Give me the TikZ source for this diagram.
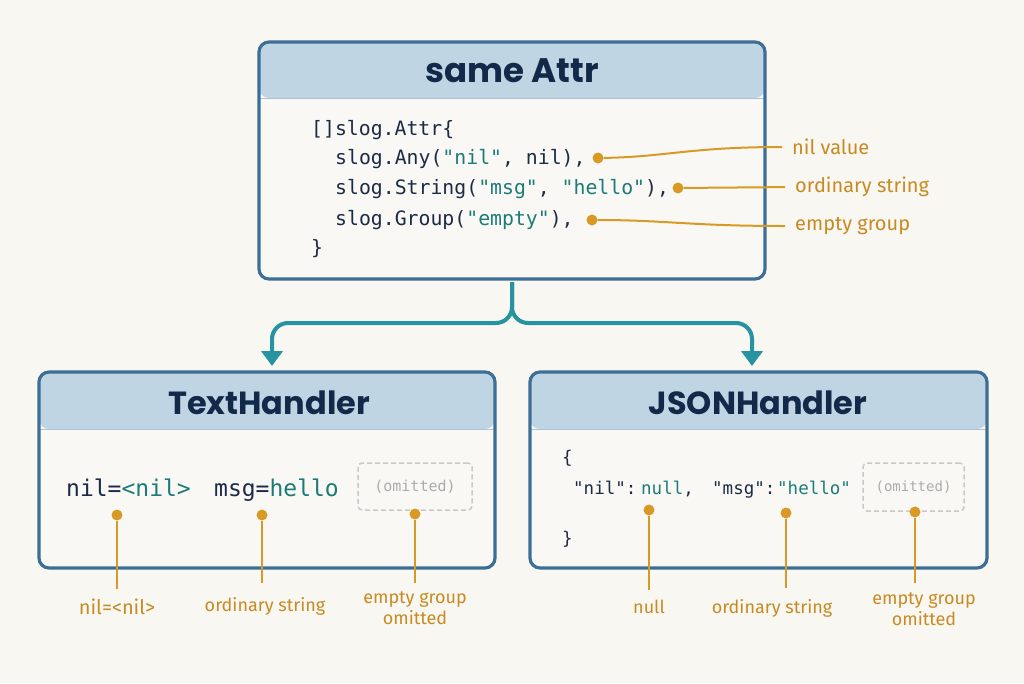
\documentclass[tikz,border=0pt]{standalone}
\usepackage{fontspec}
\setsansfont{Fira Sans}
\setmonofont{DejaVu Sans Mono}
\newfontfamily\titlefont{Poppins}
\usetikzlibrary{arrows.meta,calc}
\definecolor{bgc}{HTML}{F9F7F2}
\definecolor{boxc}{HTML}{3C6E96}
\definecolor{hdrc}{HTML}{BFD5E3}
\definecolor{hdrline}{HTML}{A9C3D6}
\definecolor{bodyc}{HTML}{FAF8F4}
\definecolor{titlec}{HTML}{13294A}
\definecolor{codec}{HTML}{1C2B45}
\definecolor{strc}{HTML}{1B7B77}
\definecolor{orc}{HTML}{D99A25}
\definecolor{orT}{HTML}{C88A22}
\definecolor{arrc}{HTML}{2593A0}
\definecolor{omc}{HTML}{C9C9C9}
\definecolor{omT}{HTML}{ABABAB}
\newcommand\strg[1]{\textcolor{strc}{#1}}
\begin{document}
\begin{tikzpicture}[x=1pt,y=-1pt,
  panel/.style={draw=boxc, line width=3.2pt, rounded corners=10pt, fill=bodyc, inner sep=0pt},
  hdr/.style={path picture={
     \fill[hdrc] (path picture bounding box.north west) rectangle ([yshift=-#1]path picture bounding box.north east);
     \draw[hdrline, line width=1pt] ([yshift=-#1]path picture bounding box.north west) -- ([yshift=-#1]path picture bounding box.north east);}},
  ttl/.style={font=\titlefont\bfseries\fontsize{32}{38}\selectfont, text=titlec, inner sep=0pt},
  codeA/.style={font=\ttfamily\fontsize{19.8}{24}\selectfont, text=codec, anchor=base west, inner sep=0pt},
  codeB/.style={font=\ttfamily\fontsize{23}{28}\selectfont, text=codec, anchor=base west, inner sep=0pt},
  codeC/.style={font=\ttfamily\fontsize{17.5}{22}\selectfont, text=codec, anchor=base west, inner sep=0pt},
  omitbox/.style={draw=omc, dash pattern=on 5pt off 3pt, rounded corners=4pt, line width=1.5pt, text=omT, inner sep=0pt},
  dot/.style={circle, fill=orc, inner sep=0pt, minimum size=11pt},
  lead/.style={draw=orc, line width=2pt},
  labA/.style={font=\sffamily\fontsize{20}{24}\selectfont, text=orT, inner sep=0pt},
  labB/.style={font=\sffamily\fontsize{18}{21}\selectfont, text=orT, inner sep=0pt, align=center},
  conn/.style={draw=arrc, line width=4pt, rounded corners=16pt, -{Triangle[width=21pt,length=15pt]}}
]
\fill[bgc] (0,0) rectangle (1024,683);
\useasboundingbox (0,0) rectangle (1024,683);

% panels
\node[panel, hdr=56pt, minimum width=506pt, minimum height=237pt] (top) at (512,160.5) {};
\node[panel, hdr=57pt, minimum width=456pt, minimum height=196pt] (tl) at (267,470) {};
\node[panel, hdr=57pt, minimum width=457pt, minimum height=196pt] (tr) at (758.5,470) {};

% titles
\node[ttl, font=\titlefont\bfseries\fontsize{34}{40}\selectfont] (ttop) at (512,71) {same Attr};
\node[ttl] (ttl) at (269,403) {TextHandler};
\node[ttl] (ttr) at (758,403) {JSONHandler};

% top code
\node[codeA] (c1) at (311,135) {[]slog.Attr\{};
\node[codeA] (c2) at (335,164) {slog.Any(\strg{"nil"}, nil),};
\node[codeA] (c3) at (335,194) {slog.String(\strg{"msg"}, \strg{"hello"}),};
\node[codeA] (c4) at (335,225) {slog.Group(\strg{"empty"}),};
\node[codeA] (c5) at (311,254) {\}};

% top annotations
\node[dot] (d1) at (598,158) {};
\node[dot] (d2) at (678,188) {};
\node[dot] (d3) at (592,220) {};
\node[labA, anchor=west] (n1) at (792,147) {nil value};
\node[labA, anchor=west] (n2) at (795,187) {ordinary string};
\node[labA, anchor=west] (n3) at (795,226) {empty group};
\draw[lead, shorten >=10pt] (d1) .. controls (665,157) and (690,147) .. (n1.west);
\draw[lead, shorten >=10pt] (d2) -- (n2.west);
\draw[lead, shorten >=10pt] (d3) .. controls (665,220) and (690,226) .. (n3.west);

% connectors
\coordinate (lm) at (272,323);
\coordinate (la) at (272,366);
\coordinate (rm) at (752,323);
\coordinate (ra) at (752,366);
\draw[conn, shorten <=1.6pt] (top.south) |- (lm) -- (la);
\draw[conn, shorten <=1.6pt] (top.south) |- (rm) -- (ra);

% TextHandler body
\node[codeB] (t1) at (66,496) {nil=\strg{<nil>}};
\node[codeB] (t2) at (214,496) {msg=\strg{hello}};
\node[omitbox, minimum width=114pt, minimum height=47pt, font=\ttfamily\fontsize{15}{18}\selectfont] (om1) at (415,486.5) {(omitted)};

% JSONHandler body
\node[codeC] (j0) at (562,463) {\{};
\node[codeC] (j1) at (573,494) {"nil":};
\node[codeC] (j2) at (641,494) {\strg{null},};
\node[codeC] (j3) at (712,494) {"msg":};
\node[codeC] (j4) at (777,494) {\strg{"hello"}};
\node[codeC] (j5) at (562,544) {\}};
\node[omitbox, minimum width=101pt, minimum height=48pt, font=\ttfamily\fontsize{14}{17}\selectfont] (om2) at (913.5,487) {(omitted)};

% bottom annotations (left)
\node[dot] (b1) at (117,515) {};
\node[dot] (b2) at (262,515) {};
\node[dot] (b3) at (415,514) {};
\node[labB, font=\sffamily\fontsize{20}{24}\selectfont] (L1) at (117,607) {nil=<nil>};
\node[labB] (L2) at (265,606) {ordinary string};
\node[labB] (L3) at (415,608) {empty group\\omitted};
\draw[lead] (b1) -- (b1 |- 0,589);
\draw[lead] (b2) -- (b2 |- 0,583);
\draw[lead] (b3) -- (b3 |- 0,583);

% bottom annotations (right)
\node[dot] (b4) at (649,510) {};
\node[dot] (b5) at (786,513) {};
\node[dot] (b6) at (915,512) {};
\node[labB] (R1) at (649,607) {null};
\node[labB] (R2) at (772,608) {ordinary string};
\node[labB] (R3) at (924,609) {empty group\\omitted};
\draw[lead] (b4) -- (b4 |- 0,590);
\draw[lead] (b5) -- (b5 |- 0,588);
\draw[lead] (b6) -- (b6 |- 0,583);
\end{tikzpicture}
\end{document}
